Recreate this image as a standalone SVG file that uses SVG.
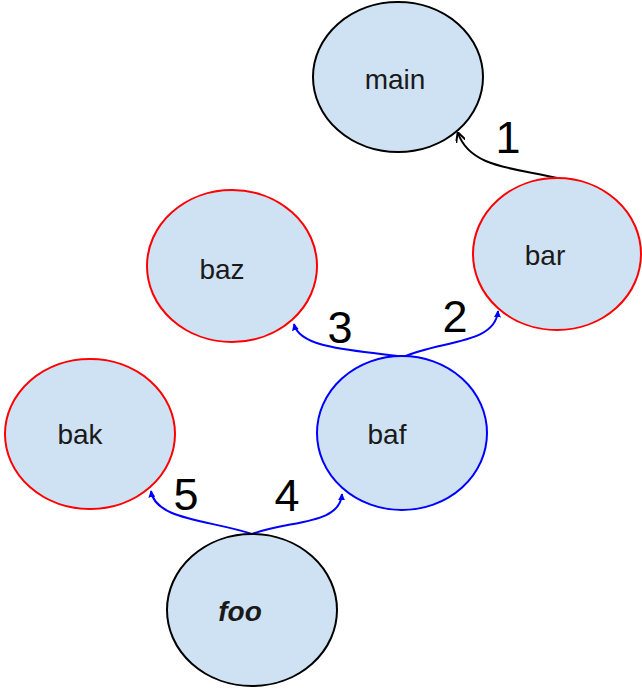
<svg xmlns="http://www.w3.org/2000/svg" width="642" height="692" viewBox="0 0 642 692">
<style>
.n{fill:#cfe2f3;stroke-width:2}
.blk{stroke:#000}
.red{stroke:#ff0000}
.blu{stroke:#0000ff}
.t{font-family:"Liberation Sans",Arial,sans-serif;font-size:28px;fill:#1a1a1a;text-anchor:middle}
.num{font-family:"Liberation Sans",Arial,sans-serif;font-size:45px;fill:#000;text-anchor:middle}
.e{fill:none;stroke-width:2}
</style>
<defs>
<marker id="ab" viewBox="0 0 10 10" refX="9" refY="5" markerWidth="7" markerHeight="7" orient="auto" markerUnits="userSpaceOnUse"><path d="M0,0 L10,5 L0,10 z" fill="#0000ff"/></marker>
<marker id="ak" viewBox="0 0 10 10" refX="9" refY="5" markerWidth="10" markerHeight="10" orient="auto" markerUnits="userSpaceOnUse"><path d="M0,0 L10,5 L0,10" fill="none" stroke="#000" stroke-width="2"/></marker>
</defs>
<g id="connectors">
<path class="e" stroke="#000" d="M557,178 C515,168 470,168 458,133" marker-end="url(#ak)"/>
<path class="e" stroke="#0000ff" d="M403,357 C440,340 495,345 498,311" marker-end="url(#ab)"/>
<path class="e" stroke="#0000ff" d="M403,357 C360,350 300,350 294,324" marker-end="url(#ab)"/>
<path class="e" stroke="#0000ff" d="M252,534 C290,520 340,525 342,494" marker-end="url(#ab)"/>
<path class="e" stroke="#0000ff" d="M252,534 C210,520 155,520 151,491" marker-end="url(#ab)"/>
</g>
<g id="labels">
<text class="num" x="508" y="153">1</text>
<text class="num" x="455" y="332">2</text>
<text class="num" x="340" y="343">3</text>
<text class="num" x="287" y="511">4</text>
<text class="num" x="186" y="510">5</text>
</g>
<g id="main"><ellipse class="n blk" cx="398" cy="77" rx="85" ry="75"/><text class="t" x="395" y="89">main</text></g>
<g id="bar"><ellipse class="n red" cx="557" cy="254" rx="84" ry="76"/><text class="t" x="545" y="265">bar</text></g>
<g id="baz"><ellipse class="n red" cx="232" cy="266" rx="85" ry="76"/><text class="t" x="222" y="279">baz</text></g>
<g id="baf"><ellipse class="n blu" cx="402" cy="433" rx="85" ry="77"/><text class="t" x="387" y="444">baf</text></g>
<g id="bak"><ellipse class="n red" cx="90" cy="434" rx="85" ry="75"/><text class="t" x="80" y="444">bak</text></g>
<g id="foo"><ellipse class="n blk" cx="252" cy="610" rx="85" ry="76"/><text class="t" x="240" y="621" font-weight="bold" font-style="italic">foo</text></g>
</svg>
